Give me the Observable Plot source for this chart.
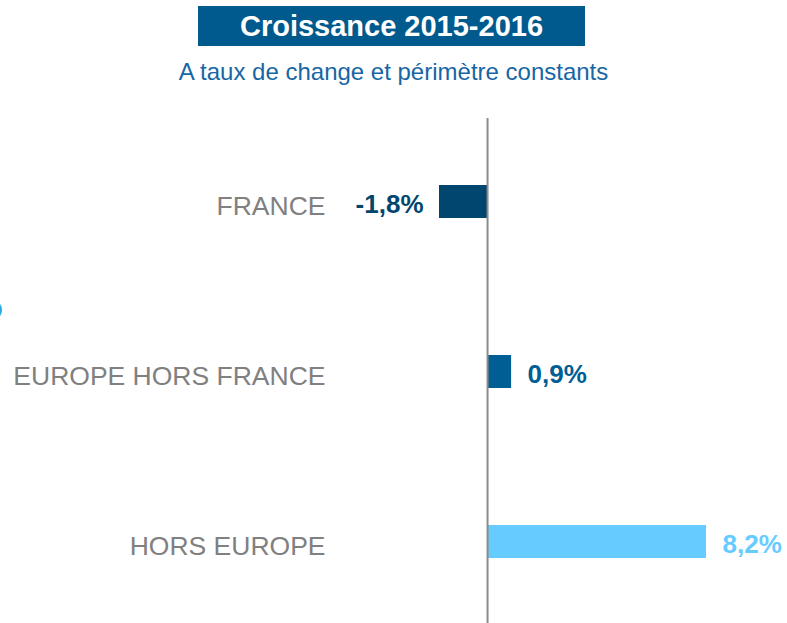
<!DOCTYPE html>
<html>
<head>
<meta charset="utf-8">
<script src="https://cdn.jsdelivr.net/npm/d3@7"></script>
<script src="https://cdn.jsdelivr.net/npm/@observablehq/plot@0.6"></script>
<style>
  html, body { margin: 0; padding: 0; background: #fff; width: 787px; height: 623px; overflow: hidden; }
  body { font-family: Arial, "Liberation Sans", sans-serif; position: relative; }
  #head { position: relative; height: 90px; width: 787px; }
  #title { position: absolute; left: 198px; top: 6px; width: 387px; height: 40px; background: #005A8E;
           color: #fff; font-weight: bold; font-size: 29px; line-height: 40px; text-align: center; }
  #subtitle { position: absolute; left: 0; width: 787px; top: 58px; text-align: center; font-size: 24px;
              line-height: 28px; color: #1766A4; }
  #arc { position: absolute; left: -20px; top: 299px; width: 18px; height: 18px; border: 2.5px solid #2AABE2; border-radius: 50%; }
  #chart svg { display: block; }
</style>
</head>
<body>
<div id="head">
  <div id="title">Croissance 2015-2016</div>
  <div id="subtitle">A taux de change et périmètre constants</div>
</div>
<div id="chart"></div>
<div id="arc"></div>
<script>
const categories = ["FRANCE", "EUROPE HORS FRANCE", "HORS EUROPE"];
const values = [-1.8, 0.9, 8.2];
const valueLabels = ["-1,8%", "0,9%", "8,2%"];
const barColors = ["#00466E", "#005E94", "#66CCFF"];

const data = categories.map((c, i) => ({category: c, value: values[i], label: valueLabels[i], color: barColors[i]}));

const chart = Plot.plot({
  width: 787,
  height: 533,
  marginTop: 28,
  marginBottom: 0,
  marginLeft: 439,
  marginRight: 81,
  style: {fontFamily: "Arial, 'Liberation Sans', sans-serif", background: "#fff"},
  x: {domain: [-1.8, 8.2], range: [439, 706], axis: null},
  y: {domain: categories, range: [26.5, 536.5], paddingInner: 0.806, paddingOuter: 0.403, axis: null},
  color: {type: "identity"},
  marks: [
    Plot.barX(data, {x: "value", y: "category", fill: "color"}),
    Plot.ruleX([0], {stroke: "#8c8c8c", strokeWidth: 2}),
    Plot.text(data.filter(d => d.value < 0), {x: "value", y: "category", text: "label", fill: "color",
      textAnchor: "end", dx: -16, dy: 3, fontSize: 26, fontWeight: "bold"}),
    Plot.text(data.filter(d => d.value >= 0), {x: "value", y: "category", text: "label", fill: "color",
      textAnchor: "start", dx: 16, dy: 3, fontSize: 26, fontWeight: "bold"}),
    Plot.text(data, {y: "category", text: "category", frameAnchor: "left", textAnchor: "end",
      dx: -114, dy: 5, fill: "#808080", fontSize: 26.5})
  ]
});
document.getElementById("chart").appendChild(chart);
</script>
</body>
</html>
